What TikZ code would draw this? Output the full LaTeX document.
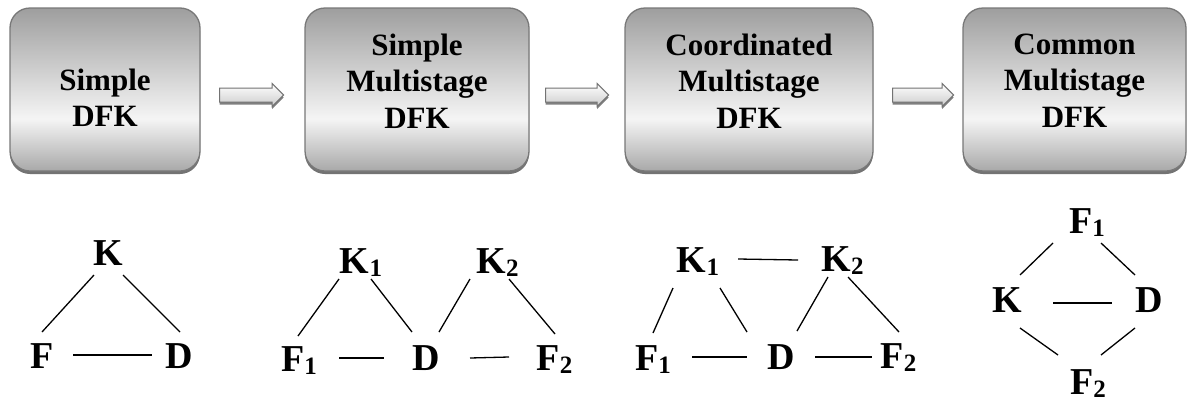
\documentclass[tikz,border=0pt]{standalone}
\usepackage{fontspec}
\setmainfont{Liberation Serif}
\usetikzlibrary{calc,shadows}
\definecolor{bxtop}{gray}{0.62}
\definecolor{bxmid}{gray}{0.96}
\definecolor{bxbot}{gray}{0.66}
\definecolor{bxline}{gray}{0.47}
\definecolor{arrline}{gray}{0.45}
\pgfdeclareverticalshading{boxshade}{100bp}{color(0bp)=(bxbot); color(25bp)=(bxbot); color(41bp)=(bxmid); color(75bp)=(bxtop); color(100bp)=(bxtop)}
\newcommand\sbs[1]{\raisebox{-3.5pt}{\fontsize{25}{25}\selectfont #1}}
\newcommand\cn[4]{\draw[ln] ($(#1.base)+(#2)$) -- ($(#3.base)+(#4)$);}
\newcommand\barrow[3]{\path[arr] ($(#1.east)+(#2,-1.5)$) -- ++({#3-11.5},0) -- ++(0,-4.5) -- ++(11.5,11.5) -- ++(-11.5,11.5) -- ++(0,-4.5) -- ++({11.5-#3},0) -- cycle;}
\begin{document}
\begin{tikzpicture}[x=1pt,y=-1pt,
  box/.style={draw=bxline, line width=1.3pt, rounded corners=20pt, shading=boxshade, inner sep=0pt, minimum height=163pt,
    drop shadow={shadow xshift=0pt, shadow yshift=-3pt, fill=black!55, opacity=1}},
  btxt/.style={font=\fontsize{31}{36.5}\selectfont\bfseries, align=center, anchor=north, inner sep=0pt},
  arr/.style={draw=arrline, line width=1pt, top color=white, bottom color=black!20,
    drop shadow={shadow xshift=0pt, shadow yshift=-2.5pt, fill=black!50, opacity=1}},
  gl/.style={font=\fontsize{38}{38}\selectfont\bfseries, inner sep=0pt, anchor=base},
  ln/.style={line width=1.3pt}]
\useasboundingbox (0,0) rectangle (1193,402);
\fill[white] (0,0) rectangle (1193,402);
% boxes
\node[box, minimum width=190pt] (b1) at (105,89.5) {};
\node[box, minimum width=224pt] (b2) at (417,89.5) {};
\node[box, minimum width=248pt] (b3) at (749,89.5) {};
\node[box, minimum width=223pt] (b4) at (1074.5,89.5) {};
\node[btxt] (t1) at (105,68.6) {Simple\\DFK};
\node[btxt] (t2) at (417,33.6) {Simple\\Multistage\\DFK};
\node[btxt] (t3) at (749,33.6) {Coordinated\\Multistage\\DFK};
\node[btxt] (t4) at (1074.5,33.6) {Common\\Multistage\\DFK};
% block arrows between the boxes
\barrow{b1}{19}{64}
\barrow{b2}{16}{63}
\barrow{b3}{19}{61}
% graph 1
\node[gl] (g1K) at (108.5,265) {K};
\node[gl] (g1F) at (42.5,368) {F};
\node[gl] (g1D) at (179.5,368) {D};
\cn{g1K}{-14.5,10}{g1F}{-0.5,-36}
\cn{g1K}{14.5,10}{g1D}{0.5,-36}
\cn{g1F}{30.5,-13}{g1D}{-27.5,-13}
% graph 2
\node[gl] (g2K1) at (361,273) {K\sbs{1}};
\node[gl] (g2F1) at (299,371) {F\sbs{1}};
\node[gl] (g2D) at (426,370) {D};
\node[gl] (g2K2) at (497.5,273) {K\sbs{2}};
\node[gl] (g2F2) at (554.5,370) {F\sbs{2}};
\cn{g2K1}{-22,6}{g2F1}{-1,-35}
\cn{g2K1}{10,6}{g2D}{-14,-38}
\cn{g2F1}{40,-13}{g2D}{-42,-12}
\cn{g2K2}{-27.5,6}{g2D}{13,-38}
\cn{g2K2}{11.5,6}{g2F2}{0.5,-36}
\cn{g2D}{44,-12}{g2F2}{-45.5,-13}
% graph 3
\node[gl] (g3K1) at (698,272) {K\sbs{1}};
\node[gl] (g3K2) at (842.5,271) {K\sbs{2}};
\node[gl] (g3F1) at (653,370) {F\sbs{1}};
\node[gl] (g3D) at (781,369) {D};
\node[gl] (g3F2) at (898.5,368) {F\sbs{2}};
\cn{g3K1}{40,-13}{g3K2}{-44.5,-11}
\cn{g3K1}{-25,16}{g3F1}{0,-37}
\cn{g3K1}{22,16}{g3D}{-34,-37}
\cn{g3F1}{39,-13}{g3D}{-34,-12}
\cn{g3K2}{-14.5,6}{g3D}{16,-38}
\cn{g3K2}{5.5,6}{g3F2}{0.5,-36}
\cn{g3D}{34,-12}{g3F2}{-26.5,-11}
% graph 4
\node[gl] (g4F1) at (1087,233) {F\sbs{1}};
\node[gl] (g4K) at (1007,312) {K};
\node[gl] (g4D) at (1149,312) {D};
\node[gl] (g4F2) at (1088,394) {F\sbs{2}};
\cn{g4F1}{-34,10}{g4K}{13,-37}
\cn{g4F1}{14,10}{g4D}{-14,-37}
\cn{g4K}{46,-9}{g4D}{-37,-9}
\cn{g4K}{13,16}{g4F2}{-30,-39}
\cn{g4D}{-14,16}{g4F2}{13,-39}
\end{tikzpicture}
\end{document}
